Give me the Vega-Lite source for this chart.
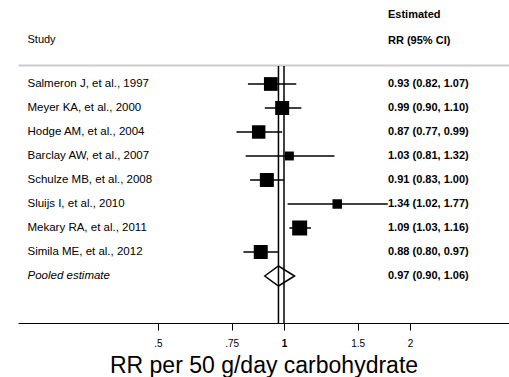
{
  "$schema": "https://vega.github.io/schema/vega-lite/v6.json",
  "padding": {"left": 18, "top": 0, "right": 0, "bottom": 0},
  "background": "white",
  "spacing": 0,
  "config": {"view": {"stroke": null}, "font": "Liberation Sans", "concat": {"spacing": 0}},
  "datasets": {
    "studies": [
      {"study": "Salmeron J, et al., 1997", "kind": "study", "rr": 0.93, "lo": 0.82, "hi": 1.07, "weight": 13.0, "ci": "0.93 (0.82, 1.07)"},
      {"study": "Meyer KA, et al., 2000", "kind": "study", "rr": 0.99, "lo": 0.90, "hi": 1.10, "weight": 13.5, "ci": "0.99 (0.90, 1.10)"},
      {"study": "Hodge AM, et al., 2004", "kind": "study", "rr": 0.87, "lo": 0.77, "hi": 0.99, "weight": 12.5, "ci": "0.87 (0.77, 0.99)"},
      {"study": "Barclay AW, et al., 2007", "kind": "study", "rr": 1.03, "lo": 0.81, "hi": 1.32, "weight": 5.5, "ci": "1.03 (0.81, 1.32)"},
      {"study": "Schulze MB, et al., 2008", "kind": "study", "rr": 0.91, "lo": 0.83, "hi": 1.00, "weight": 13.5, "ci": "0.91 (0.83, 1.00)"},
      {"study": "Sluijs I, et al., 2010", "kind": "study", "rr": 1.34, "lo": 1.02, "hi": 1.77, "weight": 6.2, "ci": "1.34 (1.02, 1.77)"},
      {"study": "Mekary RA, et al., 2011", "kind": "study", "rr": 1.09, "lo": 1.03, "hi": 1.16, "weight": 15.5, "ci": "1.09 (1.03, 1.16)"},
      {"study": "Simila ME, et al., 2012", "kind": "study", "rr": 0.88, "lo": 0.80, "hi": 0.97, "weight": 13.5, "ci": "0.88 (0.80, 0.97)"},
      {"study": "Pooled estimate", "kind": "pooled", "rr": 0.97, "lo": 0.90, "hi": 1.06, "weight": null, "ci": "0.97 (0.90, 1.06)"}
    ]
  },
  "vconcat": [
    {
      "width": 491,
      "height": 65,
      "data": {"values": [{"h": 1}]},
      "layer": [
        {
          "mark": {"type": "text", "text": "Study", "align": "left", "baseline": "middle", "fontSize": 11, "dy": 7.5, "color": "black"},
          "encoding": {
            "x": {
              "datum": 0.2439,
              "type": "quantitative",
              "scale": {"type": "log", "domain": [0.2315, 3.4475], "nice": false},
              "axis": {"orient": "bottom", "domainColor": "#cccccc", "domainWidth": 2, "ticks": false, "labels": false, "grid": false, "title": null}
            }
          }
        },
        {
          "mark": {"type": "text", "text": ["Estimated", "RR (95% CI)"], "align": "left", "baseline": "middle", "lineHeight": 26, "fontSize": 11, "fontWeight": "bold", "dy": -17.5, "color": "black"},
          "encoding": {
            "x": {"datum": 1.772, "type": "quantitative"}
          }
        }
      ]
    },
    {
      "width": 491,
      "height": 257,
      "data": {"name": "studies"},
      "encoding": {
        "y": {
          "field": "study",
          "type": "nominal",
          "scale": {
            "type": "band",
            "paddingInner": 0,
            "paddingOuter": 0.854,
            "align": 0.146,
            "domain": ["Salmeron J, et al., 1997", "Meyer KA, et al., 2000", "Hodge AM, et al., 2004", "Barclay AW, et al., 2007", "Schulze MB, et al., 2008", "Sluijs I, et al., 2010", "Mekary RA, et al., 2011", "Simila ME, et al., 2012", "Pooled estimate"]
          },
          "axis": null
        }
      },
      "layer": [
        {
          "transform": [{"filter": "datum.kind === 'pooled'"}],
          "mark": {"type": "rule", "color": "black", "strokeWidth": 1.5},
          "encoding": {
            "x": {
              "datum": 1,
              "type": "quantitative",
              "scale": {"type": "log", "domain": [0.2315, 3.4475], "nice": false},
              "axis": {
                "values": [0.5, 0.75, 1, 1.5, 2],
                "labelExpr": "datum.value < 1 ? substring(format(datum.value, '~g'), 1) : format(datum.value, '~g')",
                "grid": false,
                "domainColor": "black",
                "domainWidth": 1,
                "tickColor": "black",
                "tickSize": 7,
                "tickWidth": 1,
                "labelFontSize": 10,
                "labelColor": "black",
                "labelPadding": 8,
                "labelFontWeight": {"condition": {"test": "datum.value === 1", "value": "bold"}, "value": "normal"},
                "title": "RR per 50 g/day carbohydrate",
                "titleFontSize": 23,
                "titleFontWeight": "normal",
                "titleColor": "black",
                "titlePadding": 6
              }
            },
            "y": null
          }
        },
        {
          "transform": [{"filter": "datum.kind === 'pooled'"}],
          "mark": {"type": "rule", "color": "black", "strokeWidth": 1.5},
          "encoding": {
            "x": {"field": "rr", "type": "quantitative"},
            "y": null
          }
        },
        {
          "transform": [{"filter": "datum.kind === 'study'"}],
          "mark": {"type": "rule", "color": "black", "strokeWidth": 1.5},
          "encoding": {
            "x": {"field": "lo", "type": "quantitative"},
            "x2": {"field": "hi"}
          }
        },
        {
          "transform": [{"filter": "datum.kind === 'study'"}],
          "mark": {"type": "point", "shape": "square", "filled": true, "color": "black", "opacity": 1, "strokeWidth": 0},
          "encoding": {
            "x": {"field": "rr", "type": "quantitative"},
            "size": {"field": "weight", "type": "quantitative", "scale": {"type": "linear", "zero": true, "domain": [0, 15.5], "range": [0, 225]}, "legend": null}
          }
        },
        {
          "transform": [{"filter": "datum.kind === 'pooled'"}],
          "mark": {"type": "point", "shape": "M-0.851,0L0,-0.621L1,0L0,0.621Z", "size": 1037, "filled": false, "color": "black", "strokeWidth": 1.5, "opacity": 1},
          "encoding": {
            "x": {"field": "rr", "type": "quantitative"}
          }
        },
        {
          "transform": [{"filter": "datum.kind === 'study'"}],
          "mark": {"type": "text", "align": "left", "baseline": "middle", "fontSize": 11.5, "color": "black"},
          "encoding": {
            "x": {"datum": 0.2439, "type": "quantitative"},
            "text": {"field": "study"}
          }
        },
        {
          "transform": [{"filter": "datum.kind === 'pooled'"}],
          "mark": {"type": "text", "align": "left", "baseline": "middle", "fontSize": 11.5, "fontStyle": "italic", "color": "black"},
          "encoding": {
            "x": {"datum": 0.2439, "type": "quantitative"},
            "text": {"field": "study"}
          }
        },
        {
          "mark": {"type": "text", "align": "left", "baseline": "middle", "fontSize": 11, "fontWeight": "bold", "color": "black"},
          "encoding": {
            "x": {"datum": 1.772, "type": "quantitative"},
            "text": {"field": "ci"}
          }
        }
      ]
    }
  ]
}
